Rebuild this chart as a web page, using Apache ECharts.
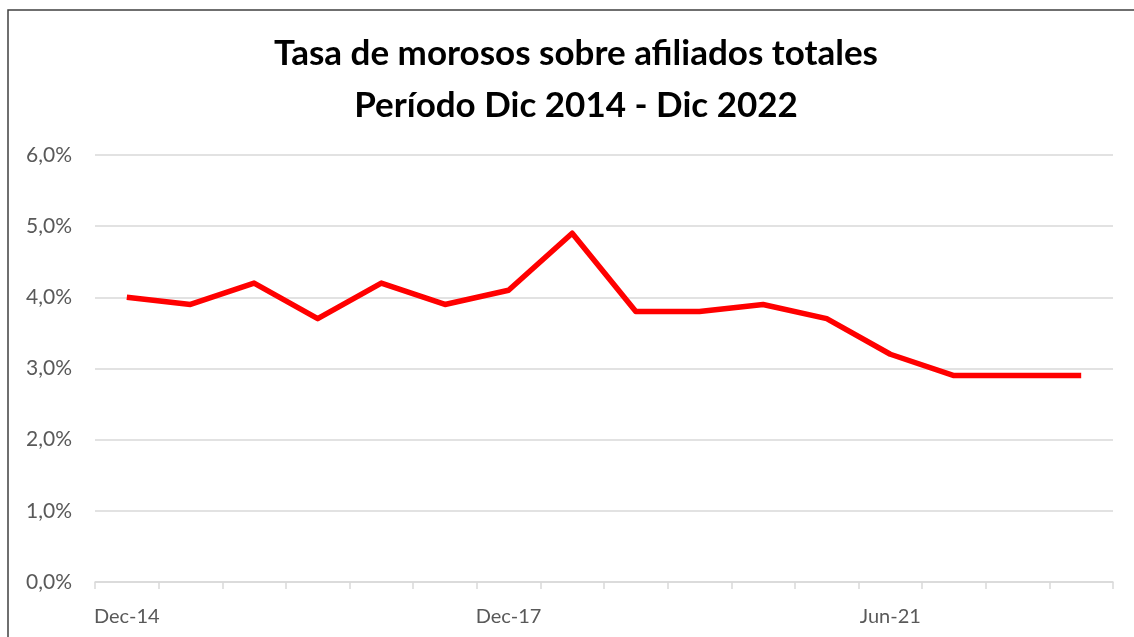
<!DOCTYPE html>
<html>
<head>
<meta charset="utf-8">
<script src="https://cdn.jsdelivr.net/npm/echarts@6/dist/echarts.min.js"></script>
<style>
  html, body {margin: 0; padding: 0; background: #fff;}
  #chart {width: 1134px; height: 637px;}
</style>
</head>
<body>
<div id="chart"></div>
<script>
// periodos (semestrales)
const periods = ['Dec-14', 'Jun-15', 'Dec-15', 'Jun-16', 'Dec-16', 'Jun-17', 'Dec-17', 'Jun-18',
  'Dec-18', 'Jun-19', 'Dec-19', 'Jun-20', 'Jun-21', 'Dec-21', 'Jun-22', 'Dec-22'];
// tasa de morosos (%)
const rates = [4.0, 3.9, 4.2, 3.7, 4.2, 3.9, 4.1, 4.9, 3.8, 3.8, 3.9, 3.7, 3.2, 2.9, 2.9, 2.9];
const titleLines = ['Tasa de morosos sobre afiliados totales', 'Período Dic 2014 - Dic 2022'];

const chart = echarts.init(document.getElementById('chart'));
const font = 'Lato, "Open Sans", sans-serif';

chart.setOption({
  backgroundColor: '#fff',
  animation: false,
  title: {
    text: titleLines.join('\n'),
    left: 571,
    top: 23,
    textAlign: 'center',
    textStyle: {
      fontFamily: font,
      fontWeight: 'bold',
      fontSize: 35,
      lineHeight: 52,
      color: '#000'
    }
  },
  graphic: [{
    type: 'rect',
    shape: {x: 8, y: 10, width: 1200, height: 700},
    style: {fill: 'none', stroke: '#404040', lineWidth: 1.5},
    silent: true
  }],
  grid: {left: 95, right: 21, top: 155, bottom: 55},
  xAxis: {
    type: 'category',
    data: periods,
    boundaryGap: true,
    axisLine: {lineStyle: {color: '#d9d9d9', width: 1.5}},
    axisTick: {show: true, interval: 0, length: 7, lineStyle: {color: '#d9d9d9', width: 1.5}},
    axisLabel: {
      interval: 5,
      margin: 25,
      fontFamily: font,
      fontSize: 20,
      color: '#595959'
    }
  },
  yAxis: {
    type: 'value',
    min: 0,
    max: 6,
    interval: 1,
    axisLine: {show: false},
    axisTick: {show: false},
    splitLine: {lineStyle: {color: '#d9d9d9', width: 1.5}},
    axisLabel: {
      margin: 23,
      fontFamily: font,
      fontSize: 21,
      color: '#595959',
      formatter: v => v.toFixed(1).replace('.', ',') + '%'
    }
  },
  series: [{
    type: 'line',
    data: rates,
    symbol: 'none',
    lineStyle: {color: '#ff0000', width: 5.5, join: 'round'}
  }]
});
</script>
</body>
</html>
